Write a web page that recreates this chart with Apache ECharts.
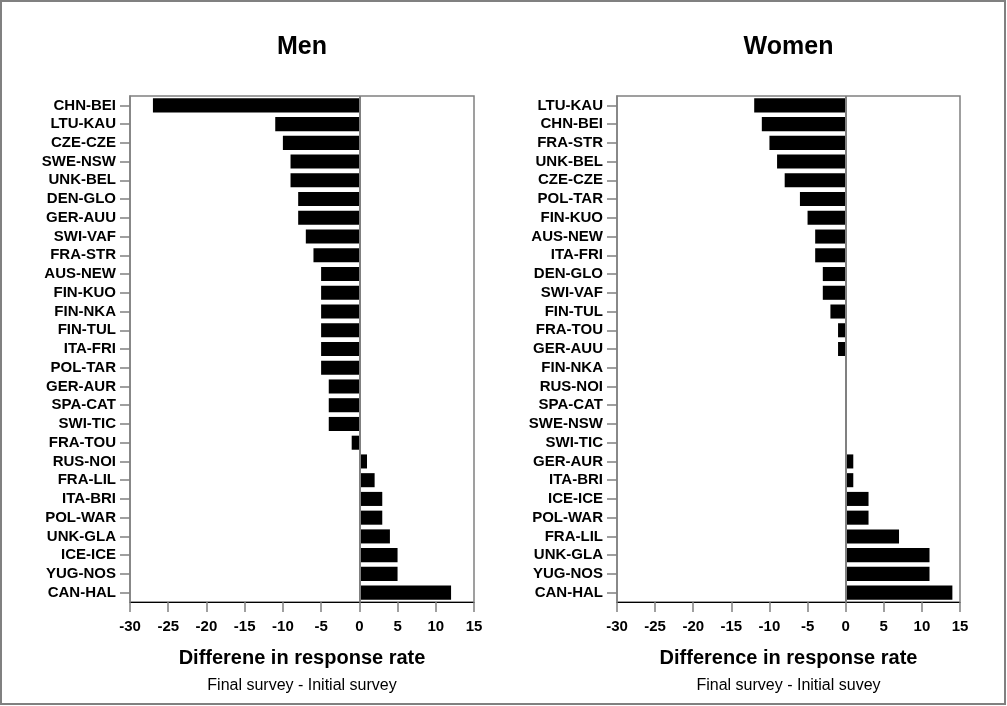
<!DOCTYPE html>
<html>
<head>
<meta charset="utf-8">
<title>Difference in response rate</title>
<script src="https://cdn.jsdelivr.net/npm/echarts@6/dist/echarts.min.js"></script>
<style>
  html, body { margin: 0; padding: 0; background: #fff; }
  #chart { width: 1007px; height: 706px; }
</style>
</head>
<body>
<div id="chart"></div>
<script>
// Men: centres ordered from largest drop to largest gain
const menCenters = ['CHN-BEI', 'LTU-KAU', 'CZE-CZE', 'SWE-NSW', 'UNK-BEL', 'DEN-GLO', 'GER-AUU',
  'SWI-VAF', 'FRA-STR', 'AUS-NEW', 'FIN-KUO', 'FIN-NKA', 'FIN-TUL', 'ITA-FRI', 'POL-TAR',
  'GER-AUR', 'SPA-CAT', 'SWI-TIC', 'FRA-TOU', 'RUS-NOI', 'FRA-LIL', 'ITA-BRI', 'POL-WAR',
  'UNK-GLA', 'ICE-ICE', 'YUG-NOS', 'CAN-HAL'];
const menDiff = [-27, -11, -10, -9, -9, -8, -8, -7, -6, -5, -5, -5, -5, -5, -5,
  -4, -4, -4, -1, 1, 2, 3, 3, 4, 5, 5, 12];

// Women
const womenCenters = ['LTU-KAU', 'CHN-BEI', 'FRA-STR', 'UNK-BEL', 'CZE-CZE', 'POL-TAR', 'FIN-KUO',
  'AUS-NEW', 'ITA-FRI', 'DEN-GLO', 'SWI-VAF', 'FIN-TUL', 'FRA-TOU', 'GER-AUU', 'FIN-NKA',
  'RUS-NOI', 'SPA-CAT', 'SWE-NSW', 'SWI-TIC', 'GER-AUR', 'ITA-BRI', 'ICE-ICE', 'POL-WAR',
  'FRA-LIL', 'UNK-GLA', 'YUG-NOS', 'CAN-HAL'];
const womenDiff = [-12, -11, -10, -9, -8, -6, -5, -4, -4, -3, -3, -2, -1, -1, 0,
  0, 0, 0, 0, 1, 1, 3, 3, 7, 11, 11, 14];

const panelTitles = ['Men', 'Women'];
const axisTitles = ['Differene in response rate', 'Difference in response rate'];
const axisSubtitles = ['Final survey - Initial survey', 'Final survey - Initial suvey'];
const xMin = -30, xMax = 15, xStep = 5;

const FONT = '"Liberation Sans", Arial, Helvetica, sans-serif';
const GRAY = '#808080';

const grids = [
  { left: 130, top: 96, width: 344, height: 506 },
  { left: 617, top: 96, width: 343, height: 506 }
];

const chart = echarts.init(document.getElementById('chart'), null, { renderer: 'canvas' });

const xAxes = [0, 1].map(i => ({
  type: 'value',
  gridIndex: i,
  min: xMin,
  max: xMax,
  interval: xStep,
  splitLine: { show: false },
  axisLine: { show: true, onZero: false, lineStyle: { color: '#000', width: 1 } },
  axisTick: { show: true, length: 10, lineStyle: { color: GRAY, width: 1.5 } },
  axisLabel: { color: '#000', fontFamily: FONT, fontWeight: 'bold', fontSize: 15, margin: 17 },
  name: '{t|' + axisTitles[i] + '}\n{s|' + axisSubtitles[i] + '}',
  nameLocation: 'middle',
  nameGap: 42,
  nameTextStyle: {
    rich: {
      t: { fontFamily: FONT, fontWeight: 'bold', fontSize: 20, color: '#000', lineHeight: 28 },
      s: { fontFamily: FONT, fontSize: 16, color: '#000', lineHeight: 27 }
    }
  }
}));

const cats = [menCenters, womenCenters];
const yAxes = [0, 1].map(i => ({
  type: 'category',
  gridIndex: i,
  data: cats[i],
  inverse: true,
  axisLine: { show: true, onZero: false, lineStyle: { color: GRAY, width: 1.5 } },
  axisTick: { show: true, alignWithLabel: true, interval: 0, length: 10, lineStyle: { color: GRAY, width: 1.5 } },
  axisLabel: { interval: 0, color: '#000', fontFamily: FONT, fontWeight: 'bold', fontSize: 15, margin: 14 },
  splitLine: { show: false }
}));

const values = [menDiff, womenDiff];
const series = [0, 1].map(i => ({
  type: 'bar',
  xAxisIndex: i,
  yAxisIndex: i,
  data: values[i],
  barWidth: '75%',
  itemStyle: { color: '#000' },
  silent: true,
  markLine: {
    silent: true,
    symbol: 'none',
    label: { show: false },
    lineStyle: { color: GRAY, width: 2, type: 'solid' },
    data: [{ xAxis: 0 }]
  }
}));

const graphic = [
  {
    type: 'rect',
    shape: { x: 1, y: 1, width: 1004, height: 703 },
    style: { fill: 'none', stroke: GRAY, lineWidth: 2 },
    silent: true,
    z: 100
  }
].concat([0, 1].map(i => ({
  type: 'text',
  x: grids[i].left + grids[i].width / 2,
  y: 47,
  style: {
    text: panelTitles[i],
    fill: '#000',
    font: 'bold 25px ' + FONT,
    textAlign: 'center',
    textVerticalAlign: 'middle'
  },
  silent: true
})));

chart.setOption({
  animation: false,
  backgroundColor: '#fff',
  grid: grids.map(g => Object.assign({ show: true, borderColor: GRAY, borderWidth: 1.5, backgroundColor: 'transparent' }, g)),
  xAxis: xAxes,
  yAxis: yAxes,
  series: series,
  graphic: graphic
});
</script>
</body>
</html>
